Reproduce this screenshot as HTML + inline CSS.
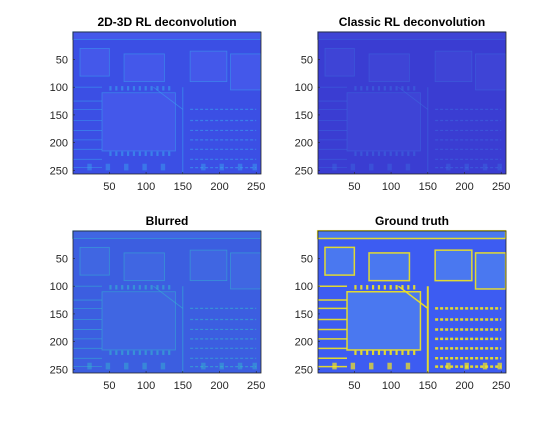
<!DOCTYPE html>
<html><head><meta charset="utf-8"><style>
body{margin:0;background:#fff;width:560px;height:420px;overflow:hidden;font-family:"Liberation Sans",Arial,sans-serif}
svg text{font-family:"Liberation Sans",Arial,sans-serif}
</style></head><body>
<svg id="fig" width="560" height="420" xmlns="http://www.w3.org/2000/svg"></svg>
<script>
// Image-feature data (pixel coordinates in 256x256 image): [x0,y0,x1,y1]
const chipBlocks=[[40,110,140,215],[70,40,125,90],[160,35,210,90],[215,40,256,105],[10,30,50,80],[0,0,256,14]];
const traceRows=[100,125,140,160,178,195,212,230,245];
const textRows=[140,160,178,195,212,230,245];
const pinCols=[50,58,66,74,82,90,98,106,114,122,130];
const padCols=[20,45,70,95,120,175,200,225,245];
const xTicks=[50,100,150,200,250];
const yTicks=[50,100,150,200,250];
const panelTitles=["2D-3D RL deconvolution","Classic RL deconvolution","Blurred","Ground truth"];
const panelBg=["#3b4fe4","#3a3dd2","#3c5ee0","#3d5cf2"];
const panelHi=["#3aa0ee","#3b6ee0","#34b4d0","#f2e51e"];
const panelBlock=["#4458ea","#3e44d6","#4066e2","#4a78f0"];
const axesPos=[[73,32],[318,32],[73,231],[318,231]];
const W=188,H=142;
const NS="http://www.w3.org/2000/svg";
const svg=document.getElementById('fig');
function el(t,a,p){const e=document.createElementNS(NS,t);for(const k in a)e.setAttribute(k,a[k]);(p||svg).appendChild(e);return e;}
panelTitles.forEach((title,i)=>{
  const [ox,oy]=axesPos[i];
  const sx=v=>ox+(v-0.5)/256*W, sy=v=>oy+(v-0.5)/256*H;
  const sw=i==3?1.5:0.8, op=i==1?0.5:(i==3?0.9:0.6);
  const g=el('g',{});
  
  
  const bg=el('rect',{x:ox,y:oy,width:W,height:H,fill:panelBg[i]},g);
  
  
  chipBlocks.forEach(b=>{
    const r=el('rect',{x:sx(b[0]),y:sy(b[1]),width:sx(b[2])-sx(b[0]),height:sy(b[3])-sy(b[1]),fill:panelBlock[i],stroke:panelHi[i],'stroke-width':sw,'stroke-opacity':op},g);
    
    
  });
  pinCols.forEach(x=>{
    [102,220].forEach(y=>{
      const p=el('rect',{x:sx(x),y:sy(y-4),width:sx(x+3)-sx(x),height:sy(y+4)-sy(y-4),fill:panelHi[i],'fill-opacity':op},g);
      
      
    });
  });
  padCols.forEach(x=>{
    const p=el('rect',{x:sx(x),y:sy(238),width:sx(x+6)-sx(x),height:sy(250)-sy(238),fill:panelHi[i],'fill-opacity':op*0.8},g);
    
    
  });
  traceRows.forEach(y=>{
    const l=el('line',{x1:sx(0),x2:sx(40),y1:sy(y),y2:sy(y),stroke:panelHi[i],'stroke-width':sw,'stroke-opacity':op},g);
    
    
  });
  textRows.forEach(y=>{
    const l=el('line',{x1:sx(160),x2:sx(250),y1:sy(y),y2:sy(y),stroke:panelHi[i],'stroke-width':i==3?2.5:1.2,'stroke-dasharray':'3 2','stroke-opacity':op},g);
    
    
  });
  const vline=el('line',{x1:sx(150),x2:sx(150),y1:sy(100),y2:sy(256),stroke:panelHi[i],'stroke-width':i==3?2:1,'stroke-opacity':op},g);
  
  
  const diag=el('line',{x1:sx(110),x2:sx(150),y1:sy(100),y2:sy(140),stroke:panelHi[i],'stroke-width':sw,'stroke-opacity':op},g);
  
  
  const frame=el('rect',{x:ox,y:oy,width:W,height:H,fill:'none',stroke:'#262626','stroke-width':0.8},g);
  
  
  xTicks.forEach(t=>{
    el('line',{x1:sx(t),x2:sx(t),y1:oy+H,y2:oy+H-2,stroke:'#262626','stroke-width':0.6},g);
    const tx=el('text',{x:sx(t),y:oy+H+16,'text-anchor':'middle','font-size':11,fill:'#262626'},g);
    tx.textContent=t;
    
    
  });
  yTicks.forEach(t=>{
    el('line',{x1:ox,x2:ox+2,y1:sy(t),y2:sy(t),stroke:'#262626','stroke-width':0.6},g);
    const ty=el('text',{x:ox-5,y:sy(t)+4,'text-anchor':'end','font-size':11,fill:'#262626'},g);
    ty.textContent=t;
    
    
  });
  const tt=el('text',{x:ox+W/2,y:oy-6,'text-anchor':'middle','font-size':12,'font-weight':'bold',fill:'#000'},g);
  tt.textContent=title;
  
  
});
</script>
</body></html>
